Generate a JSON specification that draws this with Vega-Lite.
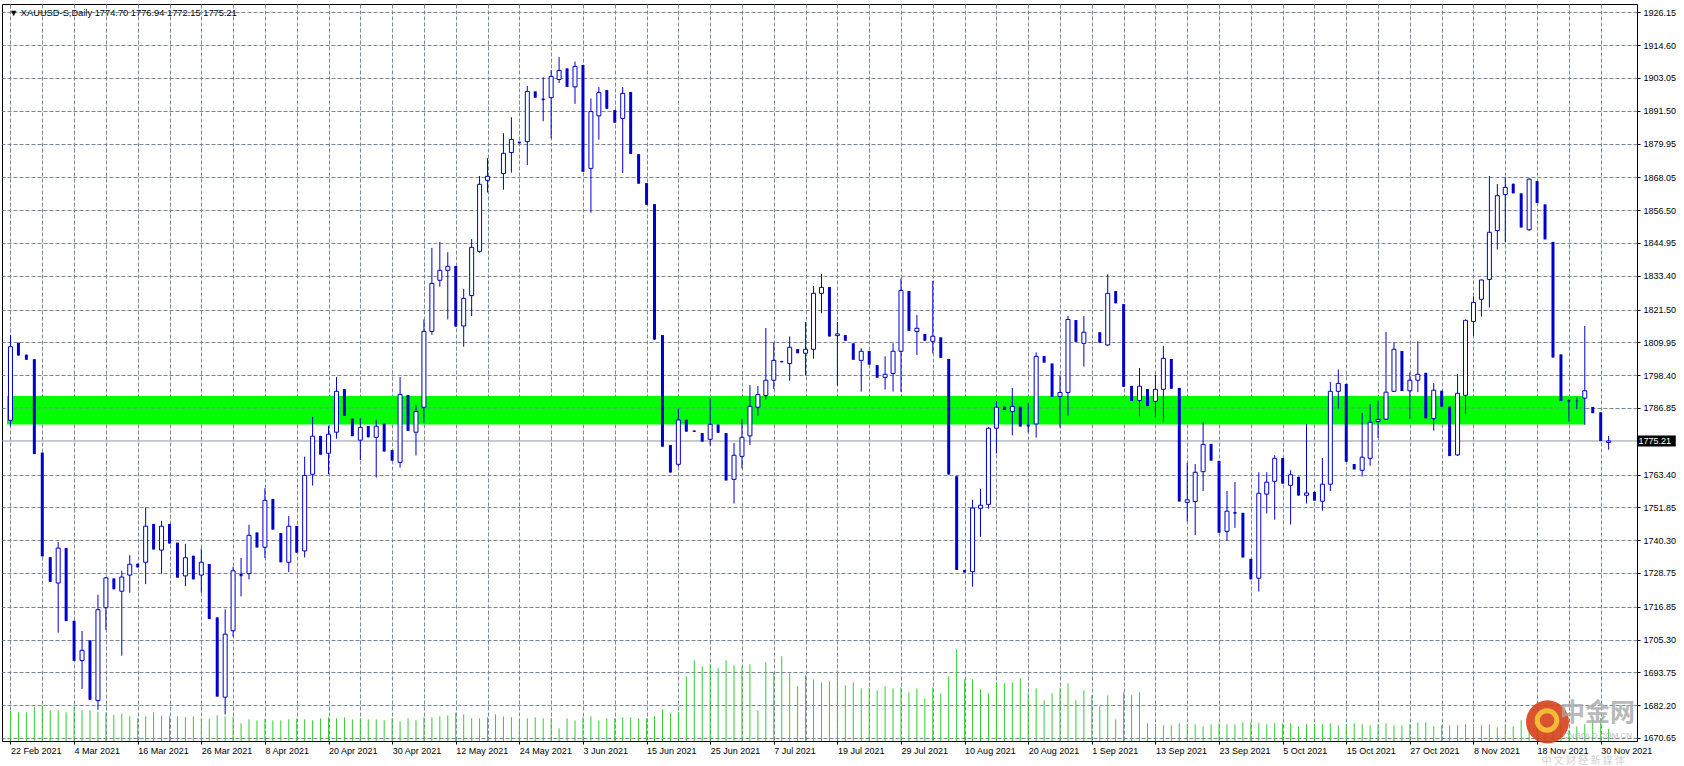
{
"$schema": "https://vega.github.io/schema/vega-lite/v6.json",
"width": 1635,
"height": 737,
"autosize": "none",
"padding": {"left": 2, "top": 4, "right": 47, "bottom": 25},
"background": "white",
"config": {"view": {"stroke": "#000000", "strokeWidth": 1}, "font": "Liberation Sans"},
"title": {"text": "▼ XAUUSD-S,Daily  1774.70 1776.94 1772.15 1775.21", "anchor": "start", "frame": "group", "orient": "top", "offset": -14, "dx": 7, "fontSize": 9.3, "fontWeight": "normal", "color": "#000000", "font": "Liberation Sans"},
"datasets": {
"ohlc": [
{"i":0,"o":1782.5,"h":1812.5,"l":1780.4,"c":1808.4,"v":3000},
{"i":1,"o":1809.8,"h":1809.8,"l":1805.3,"c":1805.3,"v":2870},
{"i":2,"o":1805.6,"h":1805.6,"l":1803.8,"c":1803.8,"v":2870},
{"i":3,"o":1804.0,"h":1804.0,"l":1770.6,"c":1770.6,"v":3400},
{"i":4,"o":1771.1,"h":1771.1,"l":1734.6,"c":1734.6,"v":3500},
{"i":5,"o":1734.3,"h":1734.3,"l":1725.6,"c":1725.6,"v":3070},
{"i":6,"o":1725.2,"h":1739.6,"l":1707.7,"c":1737.5,"v":3070},
{"i":7,"o":1737.5,"h":1737.5,"l":1711.8,"c":1711.8,"v":2870},
{"i":8,"o":1711.9,"h":1711.9,"l":1697.8,"c":1697.8,"v":3400},
{"i":9,"o":1697.9,"h":1708.3,"l":1687.9,"c":1701.5,"v":3070},
{"i":10,"o":1705.0,"h":1705.0,"l":1684.1,"c":1684.1,"v":3070},
{"i":11,"o":1683.8,"h":1721.1,"l":1680.6,"c":1715.8,"v":2900},
{"i":12,"o":1716.5,"h":1727.3,"l":1708.7,"c":1727.0,"v":2870},
{"i":13,"o":1726.8,"h":1726.8,"l":1723.0,"c":1723.0,"v":2630},
{"i":14,"o":1722.3,"h":1729.5,"l":1699.6,"c":1727.3,"v":2730},
{"i":15,"o":1728.0,"h":1735.0,"l":1721.8,"c":1731.8,"v":2470},
{"i":16,"o":1732.0,"h":1732.0,"l":1730.7,"c":1730.7,"v":2270},
{"i":17,"o":1732.5,"h":1751.8,"l":1724.8,"c":1745.2,"v":2470},
{"i":18,"o":1746.0,"h":1746.0,"l":1737.0,"c":1737.0,"v":2870},
{"i":19,"o":1736.8,"h":1747.1,"l":1728.5,"c":1745.2,"v":2530},
{"i":20,"o":1746.0,"h":1746.0,"l":1739.1,"c":1739.1,"v":2470},
{"i":21,"o":1739.4,"h":1739.4,"l":1727.1,"c":1727.1,"v":2470},
{"i":22,"o":1727.7,"h":1739.0,"l":1724.1,"c":1734.1,"v":2400},
{"i":23,"o":1734.8,"h":1734.8,"l":1726.5,"c":1726.5,"v":2470},
{"i":24,"o":1728.0,"h":1737.3,"l":1721.8,"c":1732.5,"v":2270},
{"i":25,"o":1731.9,"h":1731.9,"l":1712.5,"c":1712.5,"v":2200},
{"i":26,"o":1713.1,"h":1713.1,"l":1685.2,"c":1685.2,"v":2570},
{"i":27,"o":1685.0,"h":1715.9,"l":1678.9,"c":1707.2,"v":2470},
{"i":28,"o":1708.4,"h":1730.9,"l":1706.3,"c":1729.5,"v":2400},
{"i":29,"o":1728.5,"h":1734.0,"l":1720.5,"c":1727.6,"v":1770},
{"i":30,"o":1728.5,"h":1745.7,"l":1726.5,"c":1742.0,"v":2170},
{"i":31,"o":1743.0,"h":1743.0,"l":1737.7,"c":1737.7,"v":2070},
{"i":32,"o":1737.8,"h":1758.6,"l":1734.0,"c":1754.3,"v":2200},
{"i":33,"o":1754.8,"h":1754.8,"l":1744.0,"c":1744.0,"v":2070},
{"i":34,"o":1742.8,"h":1742.8,"l":1732.5,"c":1732.5,"v":2070},
{"i":35,"o":1732.5,"h":1748.8,"l":1729.0,"c":1745.2,"v":2170},
{"i":36,"o":1745.3,"h":1745.3,"l":1735.9,"c":1735.9,"v":2230},
{"i":37,"o":1736.5,"h":1769.7,"l":1734.2,"c":1763.1,"v":2170},
{"i":38,"o":1763.5,"h":1783.7,"l":1759.5,"c":1776.9,"v":2070},
{"i":39,"o":1777.0,"h":1777.0,"l":1770.4,"c":1770.4,"v":2270},
{"i":40,"o":1770.9,"h":1780.6,"l":1763.5,"c":1777.6,"v":2370},
{"i":41,"o":1778.3,"h":1797.7,"l":1776.0,"c":1792.7,"v":2270},
{"i":42,"o":1793.5,"h":1793.5,"l":1784.1,"c":1784.1,"v":2370},
{"i":43,"o":1783.1,"h":1783.1,"l":1776.9,"c":1776.9,"v":2170},
{"i":44,"o":1775.5,"h":1783.3,"l":1768.5,"c":1780.0,"v":2270},
{"i":45,"o":1780.5,"h":1780.5,"l":1776.5,"c":1776.5,"v":2170},
{"i":46,"o":1776.5,"h":1782.7,"l":1762.3,"c":1780.4,"v":2170},
{"i":47,"o":1781.3,"h":1781.3,"l":1771.5,"c":1771.5,"v":2070},
{"i":48,"o":1772.0,"h":1772.0,"l":1768.3,"c":1768.3,"v":2270},
{"i":49,"o":1767.7,"h":1797.7,"l":1765.8,"c":1791.6,"v":1970},
{"i":50,"o":1791.4,"h":1791.4,"l":1778.8,"c":1778.8,"v":2270},
{"i":51,"o":1778.3,"h":1787.9,"l":1770.1,"c":1785.6,"v":2070},
{"i":52,"o":1787.1,"h":1818.0,"l":1781.7,"c":1813.8,"v":2370},
{"i":53,"o":1813.8,"h":1843.2,"l":1812.6,"c":1830.7,"v":2370},
{"i":54,"o":1831.8,"h":1845.3,"l":1829.5,"c":1835.3,"v":2470},
{"i":55,"o":1835.3,"h":1841.7,"l":1818.0,"c":1836.7,"v":2570},
{"i":56,"o":1836.8,"h":1836.8,"l":1815.5,"c":1815.5,"v":2830},
{"i":57,"o":1815.7,"h":1828.8,"l":1808.4,"c":1825.4,"v":2670},
{"i":58,"o":1826.4,"h":1846.3,"l":1819.2,"c":1843.4,"v":2270},
{"i":59,"o":1842.0,"h":1868.5,"l":1841.5,"c":1865.6,"v":2270},
{"i":60,"o":1867.0,"h":1874.8,"l":1862.7,"c":1868.4,"v":2370},
{"i":61,"v":2670},
{"i":62,"o":1869.4,"h":1883.6,"l":1863.7,"c":1876.5,"v":2470},
{"i":63,"o":1876.8,"h":1889.2,"l":1869.7,"c":1881.4,"v":2370},
{"i":64,"o":1880.6,"h":1880.6,"l":1880.0,"c":1880.0,"v":2070},
{"i":65,"o":1880.6,"h":1900.2,"l":1872.4,"c":1898.3,"v":2270},
{"i":66,"o":1898.3,"h":1898.3,"l":1896.1,"c":1896.1,"v":2370},
{"i":67,"o":1895.8,"h":1903.3,"l":1887.8,"c":1895.2,"v":2270},
{"i":68,"o":1896.1,"h":1905.8,"l":1881.7,"c":1903.6,"v":2270},
{"i":69,"o":1902.5,"h":1910.4,"l":1901.3,"c":1905.7,"v":1270},
{"i":70,"o":1906.4,"h":1906.4,"l":1899.9,"c":1899.9,"v":2270},
{"i":71,"o":1899.9,"h":1908.8,"l":1893.9,"c":1907.1,"v":2070},
{"i":72,"o":1907.6,"h":1907.6,"l":1870.0,"c":1870.0,"v":2370},
{"i":73,"o":1871.2,"h":1895.8,"l":1855.6,"c":1891.2,"v":2470},
{"i":74,"o":1889.7,"h":1899.8,"l":1881.3,"c":1897.9,"v":2070},
{"i":75,"o":1898.8,"h":1898.8,"l":1892.2,"c":1892.2,"v":2270},
{"i":76,"o":1891.7,"h":1891.7,"l":1887.3,"c":1887.3,"v":2270},
{"i":77,"o":1888.8,"h":1899.8,"l":1869.6,"c":1897.6,"v":2370},
{"i":78,"o":1898.1,"h":1898.1,"l":1876.3,"c":1876.3,"v":2370},
{"i":79,"o":1876.2,"h":1876.2,"l":1865.8,"c":1865.8,"v":2270},
{"i":80,"o":1866.0,"h":1866.0,"l":1858.4,"c":1858.4,"v":2270},
{"i":81,"o":1858.6,"h":1858.6,"l":1810.9,"c":1810.9,"v":2470},
{"i":82,"o":1812.5,"h":1812.5,"l":1773.2,"c":1773.2,"v":3170},
{"i":83,"o":1773.8,"h":1773.8,"l":1764.1,"c":1764.1,"v":2770},
{"i":84,"o":1767.0,"h":1786.6,"l":1766.2,"c":1782.6,"v":2870},
{"i":85,"o":1782.7,"h":1782.7,"l":1778.5,"c":1778.5,"v":6470},
{"i":86,"o":1778.9,"h":1778.9,"l":1778.4,"c":1778.4,"v":8070},
{"i":87,"o":1778.0,"h":1778.0,"l":1775.0,"c":1775.0,"v":7470},
{"i":88,"o":1775.8,"h":1790.4,"l":1773.6,"c":1781.1,"v":7670},
{"i":89,"o":1781.0,"h":1781.0,"l":1778.1,"c":1778.1,"v":7270},
{"i":90,"o":1778.0,"h":1778.0,"l":1761.3,"c":1761.3,"v":8070},
{"i":91,"o":1761.7,"h":1774.5,"l":1753.2,"c":1770.2,"v":7570},
{"i":92,"o":1769.8,"h":1782.9,"l":1765.5,"c":1776.5,"v":7470},
{"i":93,"o":1777.0,"h":1794.9,"l":1773.8,"c":1787.4,"v":7670},
{"i":94,"o":1787.1,"h":1794.6,"l":1784.1,"c":1791.6,"v":3070},
{"i":95,"o":1791.2,"h":1815.0,"l":1789.8,"c":1796.6,"v":7870},
{"i":96,"o":1796.6,"h":1809.9,"l":1793.5,"c":1803.6,"v":6870},
{"i":97,"o":1803.4,"h":1803.4,"l":1802.9,"c":1802.9,"v":8470},
{"i":98,"o":1802.5,"h":1812.0,"l":1796.4,"c":1808.2,"v":6770},
{"i":99,"o":1807.6,"h":1807.6,"l":1806.1,"c":1806.1,"v":5470},
{"i":100,"o":1806.1,"h":1817.1,"l":1798.3,"c":1807.5,"v":6570},
{"i":101,"o":1807.5,"h":1829.8,"l":1804.2,"c":1827.2,"v":6170},
{"i":102,"o":1827.2,"h":1834.0,"l":1820.2,"c":1829.3,"v":5870},
{"i":103,"o":1829.4,"h":1829.4,"l":1812.0,"c":1812.0,"v":5970},
{"i":104,"o":1812.3,"h":1817.1,"l":1794.7,"c":1812.9,"v":7070},
{"i":105,"o":1812.5,"h":1812.5,"l":1810.5,"c":1810.5,"v":5570},
{"i":106,"o":1809.6,"h":1809.6,"l":1803.8,"c":1803.8,"v":5870},
{"i":107,"o":1803.6,"h":1807.9,"l":1792.6,"c":1806.8,"v":5270},
{"i":108,"o":1806.9,"h":1806.9,"l":1802.1,"c":1802.1,"v":5270},
{"i":109,"o":1801.9,"h":1801.9,"l":1797.5,"c":1797.5,"v":5070},
{"i":110,"o":1797.6,"h":1805.0,"l":1793.3,"c":1798.7,"v":5470},
{"i":111,"o":1799.0,"h":1809.6,"l":1792.6,"c":1806.8,"v":5270},
{"i":112,"o":1806.8,"h":1832.5,"l":1792.5,"c":1828.2,"v":5370},
{"i":113,"o":1828.0,"h":1828.0,"l":1814.0,"c":1814.0,"v":4870},
{"i":114,"o":1813.8,"h":1819.6,"l":1805.5,"c":1814.9,"v":5270},
{"i":115,"o":1812.9,"h":1812.9,"l":1810.5,"c":1810.5,"v":4270},
{"i":116,"o":1810.3,"h":1831.6,"l":1806.1,"c":1812.1,"v":5370},
{"i":117,"o":1811.7,"h":1811.7,"l":1804.5,"c":1804.5,"v":4770},
{"i":118,"o":1804.1,"h":1804.1,"l":1763.4,"c":1763.4,"v":6470},
{"i":119,"o":1762.8,"h":1762.8,"l":1729.8,"c":1729.8,"v":9170},
{"i":120,"o":1729.8,"h":1729.8,"l":1728.9,"c":1728.9,"v":6170},
{"i":121,"o":1729.2,"h":1754.5,"l":1723.9,"c":1751.6,"v":6170},
{"i":122,"o":1751.5,"h":1758.4,"l":1741.5,"c":1752.6,"v":5170},
{"i":123,"o":1752.9,"h":1780.2,"l":1751.4,"c":1779.7,"v":4770},
{"i":124,"o":1779.7,"h":1789.3,"l":1770.8,"c":1787.1,"v":5870},
{"i":125,"o":1787.3,"h":1787.3,"l":1786.1,"c":1786.1,"v":5770},
{"i":126,"o":1785.6,"h":1793.9,"l":1777.2,"c":1787.4,"v":5870},
{"i":127,"o":1787.3,"h":1787.3,"l":1780.3,"c":1780.3,"v":6270},
{"i":128,"o":1781.0,"h":1788.6,"l":1778.2,"c":1780.3,"v":4770},
{"i":129,"o":1781.2,"h":1806.4,"l":1776.4,"c":1805.0,"v":5270},
{"i":130,"o":1805.1,"h":1805.1,"l":1802.8,"c":1802.8,"v":4070},
{"i":131,"o":1802.5,"h":1802.5,"l":1790.7,"c":1790.7,"v":4770},
{"i":132,"o":1790.9,"h":1798.1,"l":1779.9,"c":1792.3,"v":5270},
{"i":133,"o":1792.3,"h":1819.2,"l":1784.1,"c":1818.0,"v":5770},
{"i":134,"o":1817.8,"h":1817.8,"l":1810.1,"c":1810.1,"v":4070},
{"i":135,"o":1809.6,"h":1819.2,"l":1801.4,"c":1813.5,"v":5070},
{"i":136,"v":4570},
{"i":137,"o":1813.5,"h":1813.5,"l":1809.8,"c":1809.8,"v":3470},
{"i":138,"o":1809.0,"h":1833.9,"l":1808.6,"c":1827.2,"v":4570},
{"i":139,"o":1828.0,"h":1828.0,"l":1823.7,"c":1823.7,"v":2170},
{"i":140,"o":1823.4,"h":1823.4,"l":1794.3,"c":1794.3,"v":4870},
{"i":141,"o":1794.6,"h":1794.6,"l":1789.3,"c":1789.3,"v":4570},
{"i":142,"o":1789.5,"h":1800.9,"l":1783.8,"c":1794.5,"v":4870},
{"i":143,"o":1793.5,"h":1793.5,"l":1787.5,"c":1787.5,"v":1770},
{"i":144,"o":1789.2,"h":1798.5,"l":1783.4,"c":1793.4,"v":1670},
{"i":145,"o":1793.4,"h":1808.7,"l":1782.0,"c":1804.3,"v":1570},
{"i":146,"o":1804.1,"h":1804.1,"l":1793.6,"c":1793.6,"v":1570},
{"i":147,"o":1793.9,"h":1793.9,"l":1753.9,"c":1753.9,"v":1770},
{"i":148,"o":1753.6,"h":1767.5,"l":1746.9,"c":1754.5,"v":1670},
{"i":149,"o":1753.9,"h":1767.1,"l":1742.1,"c":1764.2,"v":1670},
{"i":150,"o":1764.4,"h":1781.9,"l":1757.6,"c":1774.0,"v":1470},
{"i":151,"o":1774.2,"h":1774.2,"l":1768.3,"c":1768.3,"v":1670},
{"i":152,"o":1768.2,"h":1768.2,"l":1742.9,"c":1742.9,"v":1770},
{"i":153,"o":1743.4,"h":1757.6,"l":1740.1,"c":1750.5,"v":1670},
{"i":154,"o":1750.2,"h":1760.8,"l":1744.6,"c":1749.6,"v":1670},
{"i":155,"o":1749.9,"h":1749.9,"l":1734.2,"c":1734.2,"v":1870},
{"i":156,"o":1733.7,"h":1733.7,"l":1726.5,"c":1726.5,"v":1870},
{"i":157,"o":1726.9,"h":1764.2,"l":1722.2,"c":1756.8,"v":1770},
{"i":158,"o":1756.5,"h":1764.2,"l":1749.7,"c":1760.7,"v":1670},
{"i":159,"o":1761.0,"h":1770.2,"l":1747.5,"c":1769.1,"v":1770},
{"i":160,"o":1769.2,"h":1769.2,"l":1760.2,"c":1760.2,"v":1770},
{"i":161,"o":1759.6,"h":1764.9,"l":1745.8,"c":1763.3,"v":1770},
{"i":162,"o":1762.6,"h":1762.6,"l":1756.0,"c":1756.0,"v":1470},
{"i":163,"o":1756.1,"h":1781.2,"l":1753.2,"c":1756.9,"v":1670},
{"i":164,"o":1757.3,"h":1757.3,"l":1754.2,"c":1754.2,"v":1670},
{"i":165,"o":1754.0,"h":1769.2,"l":1750.7,"c":1760.0,"v":1670},
{"i":166,"o":1760.0,"h":1796.0,"l":1757.6,"c":1792.7,"v":1770},
{"i":167,"o":1792.7,"h":1800.4,"l":1786.6,"c":1795.5,"v":1570},
{"i":168,"o":1795.3,"h":1795.3,"l":1767.9,"c":1767.9,"v":1670},
{"i":169,"o":1767.1,"h":1767.1,"l":1765.2,"c":1765.2,"v":1770},
{"i":170,"o":1764.9,"h":1785.1,"l":1762.7,"c":1769.5,"v":1670},
{"i":171,"o":1769.1,"h":1788.2,"l":1766.5,"c":1781.8,"v":1570},
{"i":172,"o":1782.1,"h":1789.4,"l":1776.3,"c":1782.8,"v":1670},
{"i":173,"o":1782.9,"h":1813.6,"l":1782.7,"c":1792.4,"v":1770},
{"i":174,"o":1792.7,"h":1809.95,"l":1792.4,"c":1807.5,"v":1570},
{"i":175,"o":1806.9,"h":1806.9,"l":1792.8,"c":1792.8,"v":1570},
{"i":176,"o":1792.9,"h":1799.3,"l":1783.0,"c":1796.6,"v":1670},
{"i":177,"o":1796.6,"h":1810.3,"l":1792.4,"c":1798.7,"v":1870},
{"i":178,"o":1799.2,"h":1799.2,"l":1783.2,"c":1783.2,"v":1870},
{"i":179,"o":1783.1,"h":1795.6,"l":1778.9,"c":1793.1,"v":1470},
{"i":180,"o":1792.9,"h":1792.9,"l":1787.3,"c":1787.3,"v":1570},
{"i":181,"o":1787.3,"h":1787.3,"l":1769.9,"c":1769.9,"v":1570},
{"i":182,"o":1770.3,"h":1798.8,"l":1769.9,"c":1792.0,"v":1570},
{"i":183,"o":1791.3,"h":1818.0,"l":1784.8,"c":1817.7,"v":1670},
{"i":184,"o":1817.3,"h":1826.1,"l":1812.2,"c":1824.0,"v":1670},
{"i":185,"o":1825.1,"h":1832.1,"l":1819.0,"c":1831.9,"v":1570},
{"i":186,"o":1832.1,"h":1868.5,"l":1822.2,"c":1848.7,"v":1670},
{"i":187,"o":1849.3,"h":1865.7,"l":1842.6,"c":1861.6,"v":1370},
{"i":188,"o":1862.0,"h":1868.1,"l":1845.2,"c":1864.5,"v":1670},
{"i":189,"o":1865.8,"h":1865.8,"l":1862.4,"c":1862.4,"v":1470},
{"i":190,"o":1862.4,"h":1862.4,"l":1850.4,"c":1850.4,"v":2070},
{"i":191,"o":1849.6,"h":1867.7,"l":1849.2,"c":1867.4,"v":1670},
{"i":192,"o":1866.7,"h":1866.7,"l":1859.0,"c":1859.0,"v":1670},
{"i":193,"o":1858.5,"h":1858.5,"l":1846.2,"c":1846.2,"v":1670},
{"i":194,"o":1845.3,"h":1845.3,"l":1804.6,"c":1804.6,"v":1970},
{"i":195,"o":1805.7,"h":1805.7,"l":1789.3,"c":1789.3,"v":1770},
{"i":196,"o":1789.6,"h":1790.0,"l":1782.0,"c":1789.1,"v":1070},
{"i":197,"o":1789.4,"h":1790.6,"l":1786.4,"c":1789.2,"v":1470},
{"i":198,"o":1790.3,"h":1815.7,"l":1780.9,"c":1792.9,"v":1670},
{"i":199,"o":1787.2,"h":1787.2,"l":1785.0,"c":1785.0,"v":2070},
{"i":200,"o":1785.3,"h":1785.3,"l":1775.2,"c":1775.2,"v":2270},
{"i":201,"o":1774.70,"h":1776.94,"l":1772.15,"c":1775.21,"v":1200}
],
"one": [{}]
},
"data": {"name": "ohlc"},
"layer": [
{
"mark": {"type": "rule", "color": "#32cd32", "strokeWidth": 1},
"encoding": {
"x": {"field": "i", "type": "quantitative", "scale": {"domain": [-0.4375, 203.9375], "nice": false, "zero": false},
"axis": {"values": [0,4,8,12,16,20,24,28,32,36,40,44,48,52,56,60,64,68,72,76,80,84,88,92,96,100,104,108,112,116,120,124,128,132,136,140,144,148,152,156,160,164,168,172,176,180,184,188,192,196,200], "grid": true, "gridDash": [4,2], "gridColor": "#778899", "gridOpacity": 1, "gridWidth": 1, "labels": false, "ticks": false, "domain": false, "title": null}},
"y": {"field": "v", "type": "quantitative", "scale": {"domain": [0, 73700], "nice": false, "zero": true}, "axis": null},
"y2": {"datum": 0}
}
},
{
"data": {"name": "one"},
"mark": {"type": "rect", "color": "#00ff00", "clip": true},
"encoding": {
"x": {"datum": -0.4375, "type": "quantitative", "axis": null},
"x2": {"datum": 198},
"y": {"datum": 1781.0, "type": "quantitative", "scale": {"domain": [1669.57, 1929.08], "nice": false, "zero": false}, "axis": null},
"y2": {"datum": 1791.06}
}
},
{
"data": {"name": "one"},
"mark": {"type": "rule", "color": "#778899", "strokeDash": [4,2], "strokeWidth": 1},
"encoding": {
"x": {"datum": -0.4375, "type": "quantitative", "axis": null},
"x2": {"datum": 198},
"y": {"datum": 1786.85, "type": "quantitative", "scale": {"domain": [1669.57, 1929.08], "nice": false, "zero": false}, "axis": null}
}
},
{
"data": {"name": "one"},
"mark": {"type": "rule", "color": "#8a96a3", "strokeWidth": 1},
"encoding": {
"y": {"datum": 1775.21, "type": "quantitative", "scale": {"domain": [1669.57, 1929.08], "nice": false, "zero": false}, "axis": null}
}
},
{
"transform": [{"filter": "isValid(datum.o)"}],
"mark": {"type": "rule", "color": "#0000cd", "strokeWidth": 1},
"encoding": {
"x": {"field": "i", "type": "quantitative",
"axis": {"orient": "bottom", "values": [0,8,16,24,32,40,48,56,64,72,80,88,96,104,112,120,128,136,144,152,160,168,176,184,192,200],
"labelExpr": "['22 Feb 2021','4 Mar 2021','16 Mar 2021','26 Mar 2021','8 Apr 2021','20 Apr 2021','30 Apr 2021','12 May 2021','24 May 2021','3 Jun 2021','15 Jun 2021','25 Jun 2021','7 Jul 2021','19 Jul 2021','29 Jul 2021','10 Aug 2021','20 Aug 2021','1 Sep 2021','13 Sep 2021','23 Sep 2021','5 Oct 2021','15 Oct 2021','27 Oct 2021','8 Nov 2021','18 Nov 2021','30 Nov 2021'][round(datum.value/8)]",
"grid": false, "domain": false, "ticks": true, "tickSize": 3, "tickColor": "#000000", "labelAlign": "left", "labelBaseline": "top", "labelPadding": 2, "labelDx": -1, "labelFont": "Liberation Sans", "labelFontSize": 9, "labelColor": "#000000", "labelOverlap": false, "labelBound": false, "labelFlush": false, "title": null}},
"y": {"field": "h", "type": "quantitative", "scale": {"domain": [1669.57, 1929.08], "nice": false, "zero": false},
"axis": {"orient": "right", "values": [1926.15,1914.60,1903.05,1891.50,1879.95,1868.05,1856.50,1844.95,1833.40,1821.50,1809.95,1798.40,1786.85,1763.40,1751.85,1740.30,1728.75,1716.85,1705.30,1693.75,1682.20,1670.65],
"labelExpr": "format(datum.value, '.2f')", "grid": true, "gridDash": [4,2], "gridColor": "#778899", "gridOpacity": 1, "gridWidth": 1, "domain": false, "ticks": true, "tickSize": 3, "tickColor": "#000000", "labelPadding": 3, "labelFont": "Liberation Sans", "labelFontSize": 9, "labelColor": "#000000", "labelOverlap": false, "labelBound": false, "labelFlush": false, "title": null}},
"y2": {"field": "l"}
}
},
{
"transform": [{"filter": "isValid(datum.o) && datum.c >= datum.o"}],
"mark": {"type": "bar", "size": 4, "fill": "#ffffff", "stroke": "#0000cd", "strokeWidth": 1},
"encoding": {
"x": {"field": "i", "type": "quantitative", "axis": null},
"y": {"field": "o", "type": "quantitative", "scale": {"domain": [1669.57, 1929.08], "nice": false, "zero": false}, "axis": null},
"y2": {"field": "c"}
}
},
{
"transform": [{"filter": "isValid(datum.o) && datum.c < datum.o"}],
"mark": {"type": "bar", "size": 3, "fill": "#0000cd", "stroke": null},
"encoding": {
"x": {"field": "i", "type": "quantitative", "axis": null},
"y": {"field": "o", "type": "quantitative", "scale": {"domain": [1669.57, 1929.08], "nice": false, "zero": false}, "axis": null},
"y2": {"field": "c"}
}
},
{
"data": {"name": "one"},
"mark": {"type": "rect", "color": "#000000"},
"encoding": {
"x": {"datum": 204.56, "type": "quantitative", "axis": null},
"x2": {"datum": 209.44},
"y": {"datum": 1773.3, "type": "quantitative", "scale": {"domain": [1669.57, 1929.08], "nice": false, "zero": false}, "axis": null},
"y2": {"datum": 1777.15}
}
},
{
"data": {"name": "one"},
"mark": {"type": "text", "color": "#ffffff", "align": "left", "baseline": "middle", "font": "Liberation Sans", "fontSize": 9},
"encoding": {
"x": {"datum": 204.75, "type": "quantitative", "axis": null},
"y": {"datum": 1775.21, "type": "quantitative", "scale": {"domain": [1669.57, 1929.08], "nice": false, "zero": false}, "axis": null},
"text": {"value": "1775.21"}
}
},
{
"data": {"name": "one"},
"mark": {"type": "point", "shape": "circle", "filled": true, "color": "#d8401c", "size": 1850, "opacity": 0.9},
"encoding": {
"x": {"datum": 193.31, "type": "quantitative", "axis": null},
"y": {"datum": 1676.3, "type": "quantitative", "scale": {"domain": [1669.57, 1929.08], "nice": false, "zero": false}, "axis": null}
}
},
{
"data": {"name": "one"},
"mark": {"type": "point", "shape": "circle", "filled": false, "stroke": "#f6c13a", "strokeWidth": 5, "size": 380, "opacity": 0.95},
"encoding": {
"x": {"datum": 193.25, "type": "quantitative", "axis": null},
"y": {"datum": 1676.8, "type": "quantitative", "scale": {"domain": [1669.57, 1929.08], "nice": false, "zero": false}, "axis": null}
}
},
{
"data": {"name": "one"},
"mark": {"type": "text", "color": "#a8a8a8", "align": "center", "baseline": "middle", "font": "Noto Sans CJK SC", "fontSize": 25, "fontWeight": "bold", "opacity": 0.8},
"encoding": {
"x": {"datum": 199.6, "type": "quantitative", "axis": null},
"y": {"datum": 1679.3, "type": "quantitative", "scale": {"domain": [1669.57, 1929.08], "nice": false, "zero": false}, "axis": null},
"text": {"value": "中金网"}
}
},
{
"data": {"name": "one"},
"mark": {"type": "text", "color": "#b0b0b0", "align": "center", "baseline": "middle", "font": "Liberation Sans", "fontSize": 8, "opacity": 0.85},
"encoding": {
"x": {"datum": 199.6, "type": "quantitative", "axis": null},
"y": {"datum": 1671.2, "type": "quantitative", "scale": {"domain": [1669.57, 1929.08], "nice": false, "zero": false}, "axis": null},
"text": {"value": "CNGOLD.COM.CN"}
}
},
{
"data": {"name": "one"},
"mark": {"type": "text", "color": "#c0c0c0", "align": "center", "baseline": "middle", "font": "Noto Sans CJK SC", "fontSize": 10, "opacity": 0.7},
"encoding": {
"x": {"datum": 197.8, "type": "quantitative", "axis": null},
"y": {"datum": 1662.4, "type": "quantitative", "scale": {"domain": [1669.57, 1929.08], "nice": false, "zero": false}, "axis": null},
"text": {"value": "中 文 财 经 新 媒 体"}
}
}
],
"resolve": {"scale": {"y": "independent"}, "axis": {"x": "independent"}}
}
